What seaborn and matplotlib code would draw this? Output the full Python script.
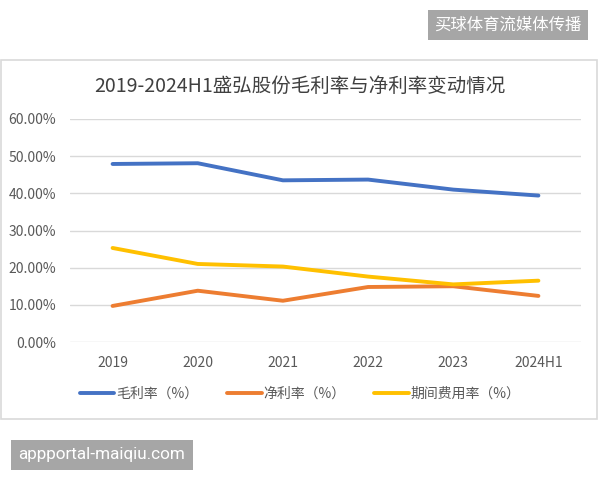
import matplotlib
matplotlib.use("Agg")
import matplotlib.pyplot as plt
import pandas as pd
import seaborn as sns
from matplotlib.patches import Rectangle
from matplotlib.ticker import FuncFormatter

# Data (percent)
years = ["2019", "2020", "2021", "2022", "2023", "2024H1"]
gross_margin = [47.9, 48.1, 43.5, 43.7, 41.0, 39.4]
net_margin = [9.7, 13.8, 11.1, 14.8, 15.0, 12.4]
expense_ratio = [25.3, 21.0, 20.3, 17.6, 15.5, 16.5]

series_names = ["毛利率（%）", "净利率（%）", "期间费用率（%）"]
colors = ["#4472C4", "#ED7D31", "#FFC000"]

df = pd.DataFrame({
    "year": years * 3,
    "value": gross_margin + net_margin + expense_ratio,
    "series": [series_names[0]] * 6 + [series_names[1]] * 6 + [series_names[2]] * 6,
})

sns.set_style("white")
plt.rcParams["font.family"] = ["Noto Sans CJK SC", "DejaVu Sans"]

fig = plt.figure(figsize=(6, 4.8), dpi=100)
fig.patch.set_facecolor("white")

# chart frame like the Excel chart area
fig.patches.append(Rectangle((1 / 600, 1 - 419 / 480), 596 / 600, 359 / 480,
                             transform=fig.transFigure, fill=False,
                             edgecolor="#d9d9d9", linewidth=1.2))

ax = fig.add_axes([70 / 600, 1 - 342 / 480, 511 / 600, 223 / 480])
sns.lineplot(data=df, x="year", y="value", hue="series", palette=colors,
             linewidth=2.8, ax=ax, legend=True, sort=False)

ax.set_ylim(0, 60)
ax.set_xlim(-0.5, len(years) - 0.5)
ax.set_yticks([0, 10, 20, 30, 40, 50, 60])
ax.yaxis.set_major_formatter(FuncFormatter(lambda v, p: f"{v:.2f}%"))
ax.grid(axis="y", color="#d9d9d9", linewidth=1.0)
ax.set_axisbelow(True)
for s in ax.spines.values():
    s.set_visible(False)
ax.tick_params(axis="both", length=0, labelsize=10, colors="#595959")
ax.tick_params(axis="y", pad=10)
ax.tick_params(axis="x", pad=10)
ax.set_xlabel("")
ax.set_ylabel("")

handles, labels = ax.get_legend_handles_labels()
ax.get_legend().remove()
fig.legend(handles, labels, loc="center", bbox_to_anchor=(300 / 600, 1 - 394 / 480),
           ncol=3, frameon=False, fontsize=10, handlelength=2.5, handletextpad=0.1,
           columnspacing=2.1, labelcolor="#595959")

fig.text(300 / 600, 1 - 86 / 480, "2019-2024H1盛弘股份毛利率与净利率变动情况",
         ha="center", va="center", fontsize=14, color="#404040")

# watermarks
fig.text(508 / 600, 1 - 25 / 480, "买球体育流媒体传播", ha="center", va="center",
         fontsize=11.8, color="white",
         bbox=dict(boxstyle="square,pad=0.4", facecolor="#a6a6a6", edgecolor="none"))
fig.text(102 / 600, 1 - 455 / 480, "appportal-maiqiu.com", ha="center", va="center",
         fontsize=12.3, color="white", family=["Roboto", "DejaVu Sans"],
         bbox=dict(boxstyle="square,pad=0.45", facecolor="#a6a6a6", edgecolor="none"))

fig.savefig("out.png", dpi=100)
